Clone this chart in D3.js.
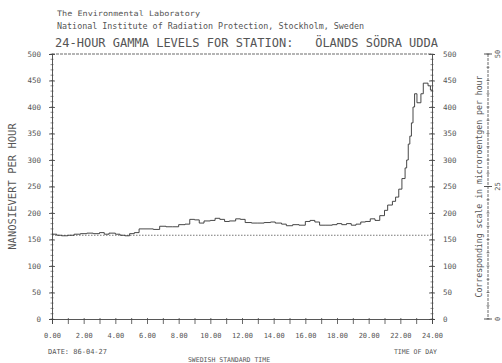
<!DOCTYPE html>
<html>
<head>
<meta charset="utf-8">
<script src="https://cdn.jsdelivr.net/npm/d3@7"></script>
<style>
  body { margin: 0; background: #fff; }
  svg { display: block; }
  text { font-family: "DejaVu Sans Mono", "Liberation Mono", monospace; fill: #555; white-space: pre; }
</style>
</head>
<body>
<svg id="chart" width="502" height="363"></svg>
<script>
// ---- data ----
const hours = [0.0,0.3,0.6,1.0,1.4,1.8,2.2,2.6,3.0,3.3,3.6,4.0,4.3,4.6,4.9,5.2,5.5,6.0,6.4,6.8,7.2,7.6,8.0,8.4,8.7,9.0,9.3,9.6,10.0,10.3,10.6,10.9,11.2,11.6,11.9,12.2,12.6,13.0,13.4,13.8,14.1,14.5,14.8,15.2,15.6,16.0,16.3,16.6,16.9,17.3,17.7,18.0,18.3,18.6,18.9,19.2,19.5,19.8,20.1,20.4,20.7,21.0,21.2,21.5,21.7,21.9,22.1,22.3,22.4,22.5,22.6,22.7,22.8,22.9,23.05,23.3,23.45,23.75,23.9,24.0];
const nanosievert = [160,158,157,158,160,161,162,161,163,160,162,160,158,157,161,163,170,170,169,175,174,174,178,179,188,187,181,185,186,190,188,184,185,189,188,182,181,181,182,183,181,179,176,178,177,184,186,183,177,177,178,180,178,180,177,179,183,184,189,186,195,205,215,222,230,245,265,285,300,330,345,370,400,425,408,425,445,440,432,430];
const referenceLevel = 158;
const xTickLabels = ["0.00","2.00","4.00","6.00","8.00","10.00","12.00","14.00","16.00","18.00","20.00","22.00","24.00"];
const yTickValues = [0,50,100,150,200,250,300,350,400,450,500];
const microRTicks = [0,25,50];

// ---- layout ----
const svg = d3.select("#chart");
svg.append("rect").attr("width",502).attr("height",363).attr("fill","#fff");
const L = 52, R = 432, T = 54, B = 319;
const x = d3.scaleLinear().domain([0,24]).range([L,R]);
const y = d3.scaleLinear().domain([0,500]).range([B,T]);
const yMicro = d3.scaleLinear().domain([0,50]).range([B,T]);
const ink = "#444";

// headers
svg.append("text").attr("x",57).attr("y",16).attr("font-size",7.5)
  .attr("textLength",143).attr("lengthAdjust","spacingAndGlyphs").text("The Environmental Laboratory");
svg.append("text").attr("x",57).attr("y",29).attr("font-size",8.5)
  .attr("textLength",307).attr("lengthAdjust","spacingAndGlyphs").text("National Institute of Radiation Protection, Stockholm, Sweden");
svg.append("text").attr("x",55).attr("y",47).attr("font-size",12.5).attr("xml:space","preserve")
  .attr("textLength",383).attr("lengthAdjust","spacingAndGlyphs").text("24-HOUR GAMMA LEVELS FOR STATION:   ÖLANDS SÖDRA UDDA");

// frame: top line
svg.append("line").attr("x1",L).attr("x2",R).attr("y1",T).attr("y2",T)
  .attr("stroke",ink).attr("stroke-width",0.8).attr("stroke-dasharray","3,1");

function styleAxis(g){
  g.select(".domain").attr("stroke",ink).attr("stroke-width",0.9);
  g.selectAll(".tick line").attr("stroke",ink).attr("stroke-width",0.8);
  g.selectAll(".tick text").attr("fill","#555").attr("font-family","DejaVu Sans Mono, monospace");
}

// minor ticks on y axes
const minor = d3.range(0,501,10);
[L,R].forEach(ax=>{
  svg.append("g").selectAll("line").data(minor).join("line")
    .attr("x1",ax-1.5).attr("x2",ax+1.5).attr("y1",d=>y(d)).attr("y2",d=>y(d))
    .attr("stroke",ink).attr("stroke-width",0.6);
});

const gl = svg.append("g").attr("transform",`translate(${L},0)`)
  .call(d3.axisLeft(y).tickValues(yTickValues).tickSize(3).tickPadding(8).tickFormat(d3.format("d")));
styleAxis(gl); gl.selectAll(".tick text").attr("font-size",7.5);
gl.selectAll(".tick line").attr("x1",3);

const gr = svg.append("g").attr("transform",`translate(${R},0)`)
  .call(d3.axisRight(y).tickValues(yTickValues).tickSize(3).tickPadding(8).tickFormat(d3.format("d")));
styleAxis(gr); gr.selectAll(".tick text").attr("font-size",7.5);
gr.selectAll(".tick line").attr("x1",-3);

const gb = svg.append("g").attr("transform",`translate(0,${B})`)
  .call(d3.axisBottom(x).ticks(24).tickSize(5).tickPadding(9).tickFormat(d => d % 2 === 0 ? xTickLabels[d/2] : ""));
styleAxis(gb); gb.selectAll(".tick text").attr("font-size",7);
gb.selectAll(".tick line").attr("y1",-1);

// reference level line
svg.append("line").attr("x1",L).attr("x2",R).attr("y1",y(referenceLevel)).attr("y2",y(referenceLevel))
  .attr("stroke","#555").attr("stroke-width",0.8).attr("stroke-dasharray","1.5,1.5");

// data line
const pts = hours.map((h,i)=>[h,nanosievert[i]]);
svg.append("path").datum(pts)
  .attr("d", d3.line().x(d=>x(d[0])).y(d=>y(d[1])).curve(d3.curveStepAfter))
  .attr("fill","none").attr("stroke","#333").attr("stroke-width",0.9);

// axis titles
svg.append("text").attr("transform",`translate(16,${(T+B)/2}) rotate(-90)`)
  .attr("text-anchor","middle").attr("font-size",10.5).text("NANOSIEVERT PER HOUR");
svg.append("text").attr("x",48).attr("y",354).attr("font-size",7).text("DATE: 86-04-27");
svg.append("text").attr("x",229).attr("y",362).attr("text-anchor","middle").attr("font-size",6.5).text("SWEDISH STANDARD TIME");
svg.append("text").attr("x",437).attr("y",354).attr("text-anchor","end").attr("font-size",6.5).text("TIME OF DAY");

// corresponding microroentgen scale
const mx = 488;
svg.append("line").attr("x1",mx).attr("x2",mx).attr("y1",T).attr("y2",B).attr("stroke",ink).attr("stroke-width",0.8).attr("stroke-dasharray","3,1");
svg.append("g").selectAll("line").data(d3.range(0,51,2.5)).join("line")
  .attr("x1",mx-1.5).attr("x2",mx+1.5).attr("y1",d=>yMicro(d)).attr("y2",d=>yMicro(d))
  .attr("stroke",ink).attr("stroke-width",0.6);
svg.append("g").selectAll("line").data(microRTicks).join("line")
  .attr("x1",mx-4).attr("x2",mx+4).attr("y1",d=>yMicro(d)).attr("y2",d=>yMicro(d))
  .attr("stroke",ink).attr("stroke-width",0.9);
svg.append("g").selectAll("text").data(microRTicks).join("text")
  .attr("transform",d=>`translate(500,${yMicro(d)}) rotate(-90)`)
  .attr("text-anchor","middle").attr("font-size",7).text(d=>d);
svg.append("text").attr("transform",`translate(482,${(T+B)/2}) rotate(-90)`)
  .attr("text-anchor","middle").attr("font-size",8.5)
  .attr("textLength",222).attr("lengthAdjust","spacingAndGlyphs")
  .text("Corresponding scale in microroentgen per hour");
</script>
</body>
</html>
